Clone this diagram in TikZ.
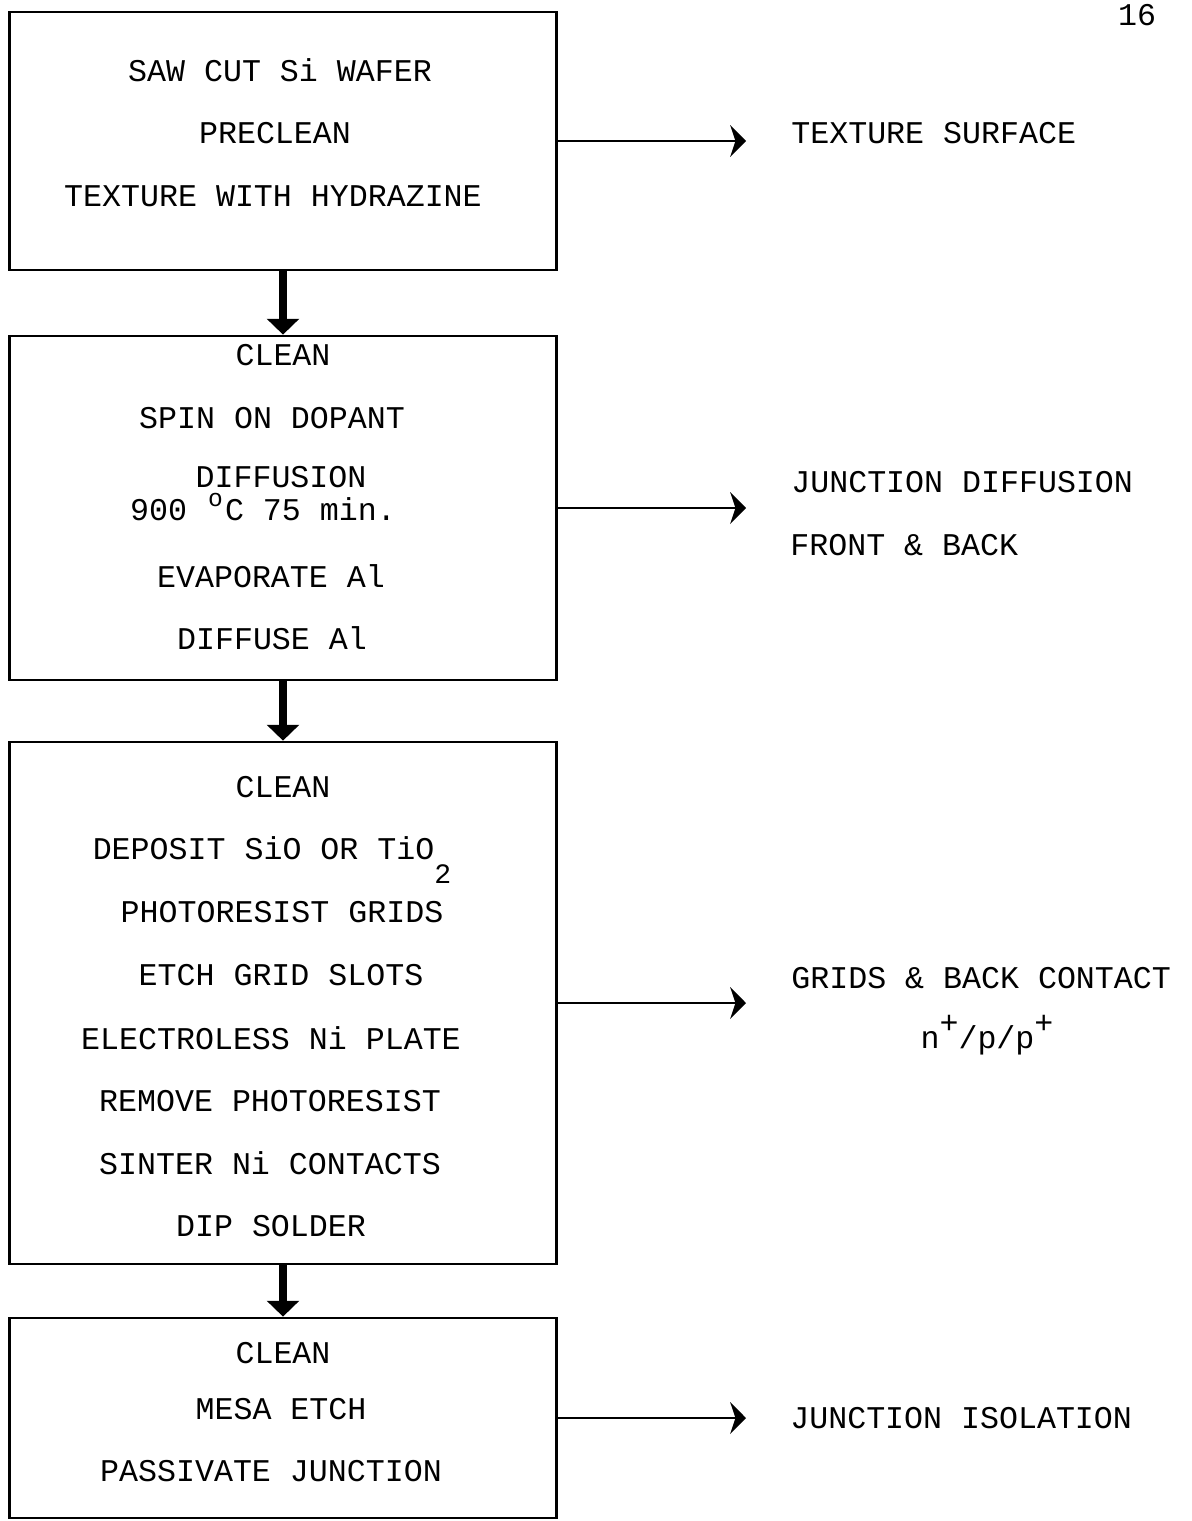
\documentclass[tikz,border=0pt]{standalone}
\usepackage{fontspec}
\setmonofont{Liberation Mono}
\usetikzlibrary{arrows.meta}

\tikzset{
  stepbox/.style={draw, line width=1.6pt, minimum width=10.94cm, inner sep=0pt},
  txt/.style={font=\ttfamily\fontsize{18}{18}\selectfont, inner sep=0pt},
  flow/.style={line width=5pt, -{Triangle[length=9pt,width=18pt]}},
  sidearrow/.style={line width=1.6pt, -{Stealth[length=9pt,width=18pt,inset=3pt]}}
}
\newcommand{\up}[1]{\smash{\raisebox{0.45em}{#1}}}

\begin{document}
\begin{tikzpicture}[x=0.02cm, y=-0.02cm]
  \useasboundingbox (0,0) rectangle (1191,1521);

  \node[txt] (page) at (1137,15) {16};

  % the four process steps
  \node[stepbox, minimum height=5.16cm] (wafer) at (283,141) {};
  \node[stepbox, minimum height=6.88cm] (junction) at (283,508) {};
  \node[stepbox, minimum height=10.44cm] (grids) at (283,1003) {};
  \node[stepbox, minimum height=4.0cm] (mesa) at (283,1418) {};

  \node[txt] (saw) at (280,70) {SAW CUT Si WAFER};
  \node[txt] (preclean) at (275,133) {PRECLEAN};
  \node[txt] (hydrazine) at (273,196) {TEXTURE WITH HYDRAZINE};

  \node[txt] (cleana) at (283,355) {CLEAN};
  \node[txt] (spin) at (272,418) {SPIN ON DOPANT};
  \node[txt] (diffusion) at (281,477) {DIFFUSION};
  \node[txt] (temp) at (263,509) {900 \makebox[0.6em]{\up{\fontsize{14}{14}\selectfont o}}C 75 min.};
  \node[txt] (evaporate) at (271,576) {EVAPORATE Al};
  \node[txt] (diffuse) at (272,638) {DIFFUSE Al};

  \node[txt] (cleanb) at (283,787) {CLEAN};
  \node[txt] (deposit) at (272,848) {DEPOSIT SiO OR TiO\smash{\raisebox{-0.75em}{\fontsize{16}{16}\selectfont 2}}};
  \node[txt] (resist) at (282,912) {PHOTORESIST GRIDS};
  \node[txt] (slots) at (281,975) {ETCH GRID SLOTS};
  \node[txt] (plate) at (271,1038) {ELECTROLESS Ni PLATE};
  \node[txt] (remove) at (270,1101) {REMOVE PHOTORESIST};
  \node[txt] (sinter) at (270,1163) {SINTER Ni CONTACTS};
  \node[txt] (solder) at (271,1226) {DIP SOLDER};

  \node[txt] (cleanc) at (283,1353) {CLEAN};
  \node[txt] (etch) at (281,1409) {MESA ETCH};
  \node[txt] (passivate) at (271,1471) {PASSIVATE JUNCTION};

  % results on the right
  \node[txt, anchor=west] (surface) at (791,133) {TEXTURE SURFACE};
  \node[txt, anchor=west] (diffres) at (791,482) {JUNCTION DIFFUSION};
  \node[txt, anchor=west] (frontback) at (790,545) {FRONT \& BACK};
  \node[txt, anchor=west] (contact) at (791,978) {GRIDS \& BACK CONTACT};
  \node[txt] (layers) at (987,1040) {n\up{+}/p/p\up{+}};
  \node[txt, anchor=west] (isolation) at (790,1418) {JUNCTION ISOLATION};

  \coordinate (surfacetip) at (746,141);
  \coordinate (difftip) at (746,508);
  \coordinate (contacttip) at (746,1003);
  \coordinate (isotip) at (746,1418);

  \draw[flow] (wafer) -- (junction);
  \draw[flow] (junction) -- (grids);
  \draw[flow] (grids) -- (mesa);

  \draw[sidearrow] (wafer) -- (surfacetip);
  \draw[sidearrow] (junction) -- (difftip);
  \draw[sidearrow] (grids) -- (contacttip);
  \draw[sidearrow] (mesa) -- (isotip);
\end{tikzpicture}
\end{document}
